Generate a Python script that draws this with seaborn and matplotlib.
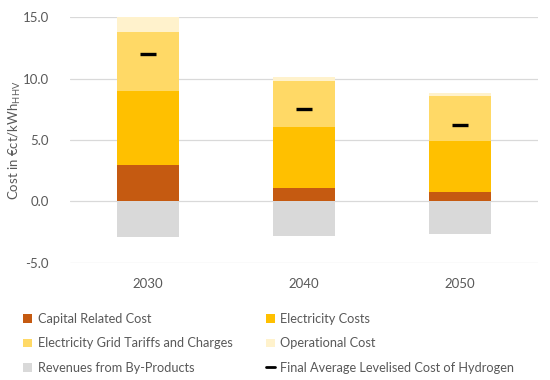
import matplotlib
matplotlib.use('Agg')
import matplotlib.pyplot as plt
from matplotlib.patches import Patch
from matplotlib.lines import Line2D
import seaborn as sns
import numpy as np

# values (€ct/kWh_HHV)
years = ['2030', '2040', '2050']
capital = [3.0, 1.1, 0.8]
electricity = [6.0, 5.0, 4.15]
grid_tariffs = [4.8, 3.7, 3.6]
operational = [1.2, 0.35, 0.28]
revenues = [-2.9, -2.8, -2.65]
lcoh = [12.0, 7.5, 6.25]

labels = ['Capital Related Cost', 'Electricity Costs',
          'Electricity Grid Tariffs and Charges', 'Operational Cost',
          'Revenues from By-Products', 'Final Average Levelised Cost of Hydrogen']
colors = ['#C55A11', '#FFC000', '#FFD966', '#FFF2CC', '#D9D9D9']
text_col = '#595959'

sns.set_style('white')
plt.rcParams['font.family'] = ['Lato', 'DejaVu Sans']
plt.rcParams['mathtext.fontset'] = 'custom'
plt.rcParams['mathtext.rm'] = 'Lato'

fig = plt.figure(figsize=(5.5, 3.8), dpi=100)
ax = fig.add_axes([0.127, 0.308, 0.851, 0.647])

stack = [capital, electricity, grid_tariffs, operational]
bottom = np.zeros(len(years))
for vals, c in zip(stack, colors[:4]):
    sns.barplot(x=years, y=vals, bottom=bottom, color=c, width=0.4,
                saturation=1, linewidth=0, ax=ax, zorder=2)
    bottom = bottom + np.array(vals)
sns.barplot(x=years, y=revenues, color=colors[4], width=0.4,
            saturation=1, linewidth=0, ax=ax, zorder=2)
sns.scatterplot(x=years, y=lcoh, marker='_', s=120, linewidth=2.4,
                color='black', ax=ax, zorder=3)

ax.set_ylim(-5, 15)
ax.set_xlim(-0.5, 2.5)
ax.set_yticks([-5, 0, 5, 10, 15])
ax.set_yticklabels([f'{v:.1f}' for v in [-5, 0, 5, 10, 15]])
ax.yaxis.grid(True, color='#D9D9D9', linewidth=0.9, zorder=0)
ax.set_axisbelow(True)
for s in ax.spines.values():
    s.set_visible(False)
ax.tick_params(axis='both', length=0, labelsize=9.5, colors=text_col)
ax.tick_params(axis='y', pad=15)
ax.tick_params(axis='x', pad=11)
ax.set_xlabel('')
ax.set_ylabel(r'Cost in €ct/kWh$_{\mathrm{HHV}}$', fontsize=9.5, color=text_col, labelpad=0)

handles = [Patch(facecolor=c, edgecolor='none') for c in colors]
handles.append(Line2D([], [], color='black', linewidth=2))
order = [0, 2, 4, 1, 3, 5]
fig.legend([handles[i] for i in order], [labels[i] for i in order],
           loc='lower left', bbox_to_anchor=(0.03, 0.0), ncol=2, frameon=False,
           borderpad=0, fontsize=9.2, labelcolor=text_col, handlelength=0.7,
           handleheight=0.7, handletextpad=0.45, columnspacing=2.6,
           labelspacing=0.95)

fig.savefig('out.png', dpi=100)
